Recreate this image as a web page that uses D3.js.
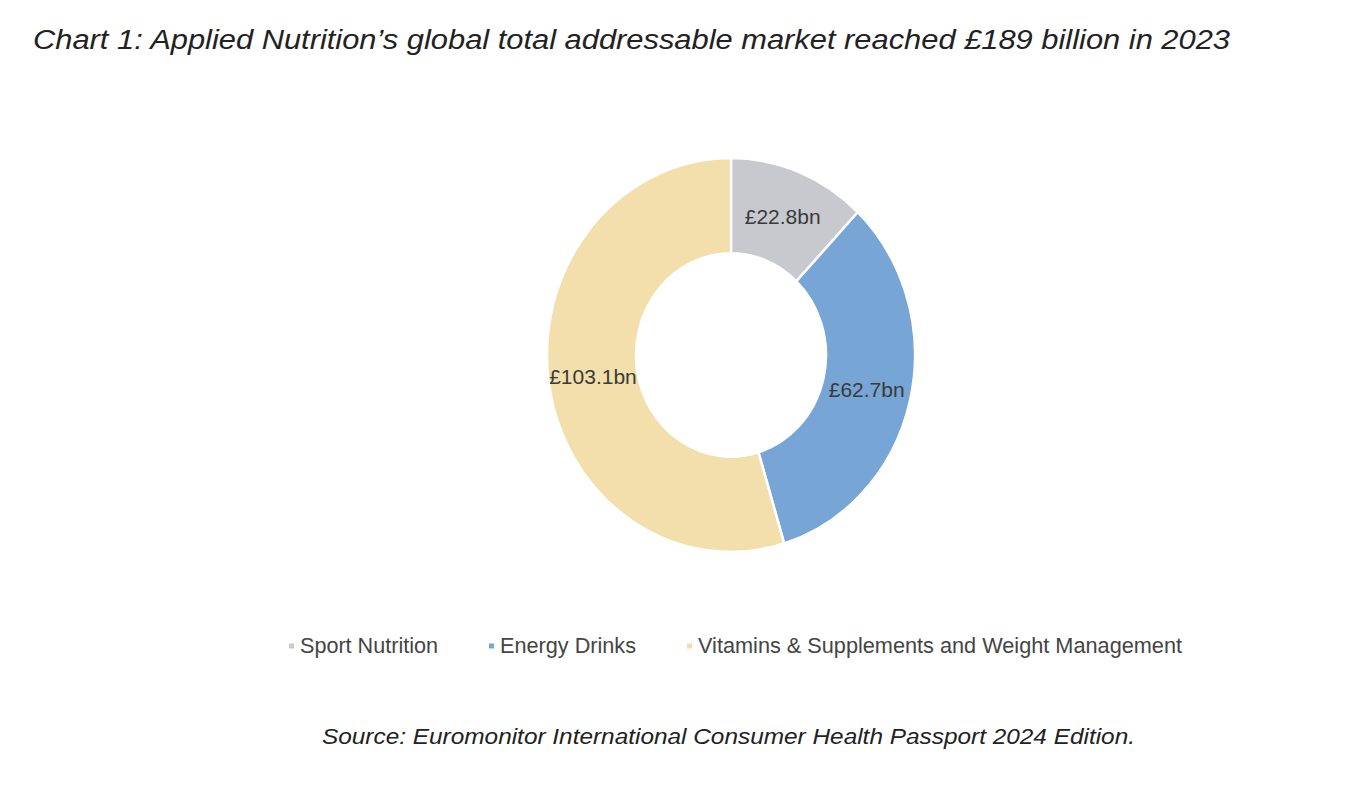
<!DOCTYPE html>
<html>
<head>
<meta charset="utf-8">
<script src="https://cdn.jsdelivr.net/npm/d3@7"></script>
<style>
  body { margin: 0; background: #fff; }
  text { font-family: "Liberation Sans", Arial, sans-serif; }
</style>
</head>
<body>
<div id="chart"></div>
<script>
// Chart data
const categories = ["Sport Nutrition", "Energy Drinks", "Vitamins & Supplements and Weight Management"];
const values = [22.8, 62.7, 103.1];
const valueLabels = ["£22.8bn", "£62.7bn", "£103.1bn"];
const colors = ["#c7c9cf", "#76a5d6", "#f2dfab"];

const titleText = "Chart 1: Applied Nutrition’s global total addressable market reached £189 billion in 2023";
const sourceText = "Source: Euromonitor International Consumer Health Passport 2024 Edition.";

// Layout
const width = 1348, height = 806;
const cx = 731, cy = 355;
const outerR = 184, innerR = 95;
const stretchY = 1.07; // the original donut is slightly taller than wide

const svg = d3.select("#chart")
    .append("svg")
    .attr("width", width)
    .attr("height", height);

// Title
svg.append("text")
    .attr("x", 33)
    .attr("y", 49)
    .attr("font-size", 27)
    .attr("font-style", "italic")
    .attr("fill", "#222")
    .attr("textLength", 1197)
    .attr("lengthAdjust", "spacingAndGlyphs")
    .text(titleText);

// Donut
const pie = d3.pie().sort(null).value(d => d);
const arcs = pie(values);
const arc = d3.arc().innerRadius(innerR).outerRadius(outerR);
const labelArc = d3.arc().innerRadius((innerR + outerR) / 2).outerRadius((innerR + outerR) / 2);

const donut = svg.append("g")
    .attr("transform", `translate(${cx},${cy}) scale(1,${stretchY})`);

donut.selectAll("path")
    .data(arcs)
    .enter()
    .append("path")
    .attr("d", arc)
    .attr("fill", (d, i) => colors[i])
    .attr("stroke", "#fff")
    .attr("stroke-width", 2.5)
    .attr("vector-effect", "non-scaling-stroke");

// Value labels at the ring centroids
svg.append("g")
    .selectAll("text")
    .data(arcs)
    .enter()
    .append("text")
    .attr("x", d => cx + labelArc.centroid(d)[0])
    .attr("y", d => cy + labelArc.centroid(d)[1] * stretchY)
    .attr("dy", "0.36em")
    .attr("text-anchor", "middle")
    .attr("font-size", 21)
    .attr("fill", "#3a3a3a")
    .text((d, i) => valueLabels[i]);

// Legend
const legendWidths = [138, 136, 484];
const legend = svg.append("g").attr("transform", "translate(289,646)");
let lx = 0;
categories.forEach((c, i) => {
    legend.append("rect")
        .attr("x", lx)
        .attr("y", -2.5)
        .attr("width", 5)
        .attr("height", 5)
        .attr("fill", colors[i]);
    legend.append("text")
        .attr("x", lx + 11)
        .attr("y", 7)
        .attr("font-size", 22)
        .attr("fill", "#444")
        .attr("textLength", legendWidths[i])
        .attr("lengthAdjust", "spacingAndGlyphs")
        .text(c);
    lx += 11 + legendWidths[i] + 51;
});

// Source note
svg.append("text")
    .attr("x", 322)
    .attr("y", 744)
    .attr("font-size", 22)
    .attr("font-style", "italic")
    .attr("fill", "#222")
    .attr("textLength", 813)
    .attr("lengthAdjust", "spacingAndGlyphs")
    .text(sourceText);
</script>
</body>
</html>
